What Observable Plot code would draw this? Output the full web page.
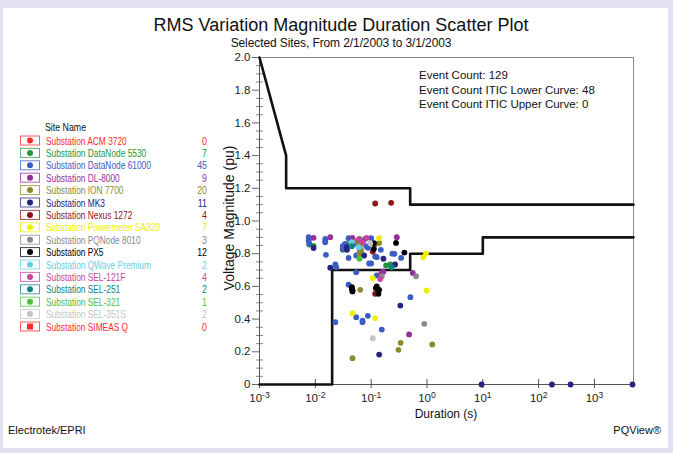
<!DOCTYPE html>
<html><head><meta charset="utf-8">
<script src="https://cdn.jsdelivr.net/npm/d3@7"></script>
<script src="https://cdn.jsdelivr.net/npm/@observablehq/plot@0.6"></script>
<style>
body{margin:0;background:#fff;font-family:"Liberation Sans",Arial,sans-serif;}
#wrap{position:relative;width:673px;height:453px;background:#e1e1f1;overflow:hidden;}
#panel{position:absolute;left:3px;top:8px;width:665px;height:440px;background:#fff;}
#chart{position:absolute;left:0;top:0;}
</style></head><body>
<div id="wrap"><div id="panel"></div><div id="chart"></div></div>
<script>
const titleText = "RMS Variation Magnitude Duration Scatter Plot";
const subtitleText = "Selected Sites, From 2/1/2003 to 3/1/2003";
const infoLines = ["Event Count: 129", "Event Count ITIC Lower Curve: 48", "Event Count ITIC Upper Curve: 0"];
const legendTitle = "Site Name";
const sites = ["Substation ACM 3720","Substation DataNode 5530","Substation DataNode 61000","Substation DL-8000","Substation ION 7700","Substation MK3","Substation Nexus 1272","Substation Powermeter SA320","Substation PQNode 8010","Substation PX5","Substation QWave Premium","Substation SEL-121F","Substation SEL-251","Substation SEL-321","Substation SEL-351S","Substation SIMEAS Q"];
const siteColors = ["#ff2a2a","#23963c","#3b5cc4","#93309c","#8c8a2e","#25247e","#8c1616","#eeee00","#8a8a8a","#000000","#6cccE4","#c8459c","#0d8484","#4cc03e","#c4c4c4","#ff2a2a"];
const siteCounts = [0,7,45,9,20,11,4,7,3,12,2,4,2,1,2,0];
const siteSymbols = ["circle","circle","circle","circle","circle","circle","circle","circle","circle","circle","circle","circle","circle","circle","circle","square"];

// event durations (s) and magnitudes (pu), per site (same order as sites)
const durations = [
  [],
  [0.0078,0.031,0.185,0.037,0.22,0.0093,0.031],
  [0.0076,0.0076,0.0078,0.0151,0.0151,0.0155,0.0228,0.0237,0.031,0.031,0.0394,0.0394,0.050,0.054,0.078,0.1,0.082,0.092,0.1,0.118,0.126,0.149,0.261,0.344,0.054,0.126,0.0394,0.504,0.054,0.070,0.070,0.0873,0.0228,0.155,0.088,0.044,0.069,0.24,0.034,0.015],
  [0.0093,0.0185,0.288,0.155,0.556,0.478,0.165,0.046,0.15],
  [0.062,0.062,0.062,0.062,0.062,0.062,0.062,0.062,0.059,0.066,0.064,0.139,0.0637,0.337,0.308,1.245,0.0463,0.057,0.066,0.12],
  [0.0093,0.0368,0.0368,0.0185,0.075,0.166,0.268,0.333,0.139,9.5,173,373,4800],
  [0.118,0.228,0.107,0.118],
  [0.139,0.859,0.96,0.107,0.985,0.0463,0.118],
  [0.155,0.637,0.893],
  [0.112,0.112,0.279,0.394,0.0452,0.0463,0.0463,0.121,0.139,0.135,0.126,0.0452],
  [0.045,0.06],
  [0.0705,0.145,0.083,0.06],
  [0.0452,0.232],
  [0.0618],
  [0.096,0.107],
  []
];
const magnitudes = [
  [],
  [0.856,0.824,0.728,0.858,0.735,0.848,0.832],
  [0.901,0.881,0.861,0.891,0.876,0.793,0.734,0.717,0.846,0.830,0.895,0.774,0.861,0.789,0.891,0.895,0.846,0.740,0.740,0.783,0.779,0.824,0.799,0.774,0.687,0.667,0.610,0.534,0.412,0.391,0.381,0.420,0.381,0.336,0.836,0.884,0.87,0.80,0.86,0.87],
  [0.897,0.901,0.901,0.682,0.682,0.306,0.690,0.897,0.674],
  [0.891,0.870,0.855,0.840,0.825,0.810,0.795,0.780,0.850,0.820,0.800,0.866,0.579,0.255,0.212,0.245,0.161,0.880,0.860,0.86],
  [0.835,0.840,0.824,0.714,0.789,0.769,0.734,0.483,0.183,0,0,0,0],
  [1.107,1.111,0.813,0.555],
  [0.895,0.779,0.80,0.650,0.575,0.436,0.406],
  [0.662,0.662,0.371],
  [0.864,0.830,0.866,0.807,0.595,0.575,0.569,0.590,0.579,0.555,0.600,0.585],
  [0.87,0.84],
  [0.870,0.645,0.897,0.887],
  [0.846,0.717],
  [0.769],
  [0.864,0.283],
  []
];

// ITIC curves
const iticUpperDur = [0.001,0.003,0.003,0.5,0.5,5000];
const iticUpperMag = [2.0,1.4,1.2,1.2,1.1,1.1];
const iticLowerDur = [0.001,0.02,0.02,0.5,0.5,10,10,5000];
const iticLowerMag = [0,0,0.7,0.7,0.8,0.8,0.9,0.9];

const xTicks = [1e-3,1e-2,1e-1,1,10,100,1000];
const yTicks = [0,0.2,0.4,0.6,0.8,1.0,1.2,1.4,1.6,1.8,2.0];
const yMinor = d3.range(1,40).map(i => i*0.05).filter(v => Math.abs(v/0.2 - Math.round(v/0.2)) > 1e-6);

const xLabel = "Duration (s)";
const yLabel = "Voltage Magnitude (pu)";
const footerLeft = "Electrotek/EPRI";
const footerRight = "PQView®";

const events = sites.flatMap((s,i) => durations[i].map((d,j) => ({site: s, duration: d, magnitude: magnitudes[i][j]})));
const upper = d3.zip(iticUpperDur, iticUpperMag);
const lower = d3.zip(iticLowerDur, iticLowerMag);

const W = 673, H = 453, mL = 259, mR = 40, mT = 57, mB = 69;
const plotW = W - mL - mR, plotH = H - mT - mB;
const font = "Liberation Sans, Arial, sans-serif";

const chart = Plot.plot({
  width: W, height: H,
  marginLeft: mL, marginRight: mR, marginTop: mT, marginBottom: mB,
  style: {background: "transparent", fontFamily: font, fontSize: "11.5px", color: "#222", overflow: "visible"},
  x: {type: "log", domain: [1e-3, 5e3], label: null},
  y: {domain: [0, 2], label: null},
  color: {domain: sites, range: siteColors},
  marks: [
    Plot.frame({stroke: "#8a8a8a"}),
    Plot.axisY(yTicks, {tickSize: 7, tickPadding: 2, tickFormat: d => d === 0 ? "0" : d.toFixed(1), stroke: "#666", fontSize: 11.5, label: null}),
    Plot.axisY(yMinor, {tickSize: 3, tickFormat: () => "", stroke: "#888", label: null}),
    Plot.tickY(yMinor, {y: d => d, insetRight: plotW - 4, stroke: "#888"}),
    Plot.axisX(xTicks, {tickSize: 4, tickPadding: 5, tickFormat: d => String(Math.round(Math.log10(d))), stroke: "#555", fontSize: 11.5, label: null}),
    Plot.tickX(xTicks, {x: d => d, insetTop: plotH - 5, stroke: "#555"}),
    Plot.ruleY([0], {stroke: "#555"}),
    Plot.ruleX([1e-3], {stroke: "#555"}),
    Plot.line(upper, {x: d => d[0], y: d => d[1], stroke: "#111", strokeWidth: 2.6}),
    Plot.line(lower, {x: d => d[0], y: d => d[1], stroke: "#111", strokeWidth: 2.6}),
    Plot.dot(events, {x: "duration", y: "magnitude", fill: "site", r: 2.9, symbol: "circle"})
  ]
});
document.getElementById("chart").appendChild(chart);

// superscript exponents on x tick labels
d3.select(chart).selectAll('g[aria-label="x-axis tick label"] text').each(function() {
  const t = d3.select(this);
  const e = t.text();
  t.text(null);
  t.append("tspan").text("10");
  t.append("tspan").attr("dy", "-0.45em").attr("font-size", "8.5px").text(e);
});

// overlay texts
const svg = d3.select("#wrap").append("svg")
  .attr("width", W).attr("height", H)
  .style("position", "absolute").style("left", 0).style("top", 0)
  .attr("font-family", font).attr("fill", "#111");

svg.append("text").attr("x", 341).attr("y", 31).attr("text-anchor", "middle").attr("font-size", 18).text(titleText);
svg.append("text").attr("x", 341).attr("y", 46.5).attr("text-anchor", "middle").attr("font-size", 12).attr("letter-spacing", "-0.1px").text(subtitleText);

infoLines.forEach((s, i) => {
  svg.append("text").attr("x", 419).attr("y", 79 + i * 14.6).attr("font-size", 11.5).text(s);
});

svg.append("text").attr("x", W - mR - plotW / 2).attr("y", 418).attr("text-anchor", "middle").attr("font-size", 12).text(xLabel);
svg.append("text").attr("transform", `translate(234,218) rotate(-90)`).attr("text-anchor", "middle").attr("font-size", 14).text(yLabel);

svg.append("text").attr("x", 8).attr("y", 434).attr("font-size", 11).text(footerLeft);
svg.append("text").attr("x", 661).attr("y", 434).attr("text-anchor", "end").attr("font-size", 11).text(footerRight);

// legend
svg.append("text").attr("transform", "translate(45,130.5) scale(0.8,1)").attr("font-size", 11).text(legendTitle);
sites.forEach((s, i) => {
  const cy = 140.5 + 12.4 * i;
  const c = siteColors[i];
  svg.append("rect").attr("x", 20.5).attr("y", cy - 4.5).attr("width", 19).attr("height", 9)
    .attr("fill", "#fff").attr("stroke", c).attr("stroke-opacity", 0.75);
  if (siteSymbols[i] === "square") {
    svg.append("rect").attr("x", 27).attr("y", cy - 3).attr("width", 6).attr("height", 6).attr("fill", c);
  } else {
    svg.append("circle").attr("cx", 30).attr("cy", cy).attr("r", 3).attr("fill", c);
  }
  svg.append("text").attr("transform", `translate(46,${cy + 4}) scale(0.76,1)`).attr("font-size", 11).attr("fill", c).text(s);
  svg.append("text").attr("transform", `translate(207,${cy + 4}) scale(0.8,1)`).attr("text-anchor", "end").attr("font-size", 11).attr("fill", c).text(siteCounts[i]);
});
</script>
</body></html>
